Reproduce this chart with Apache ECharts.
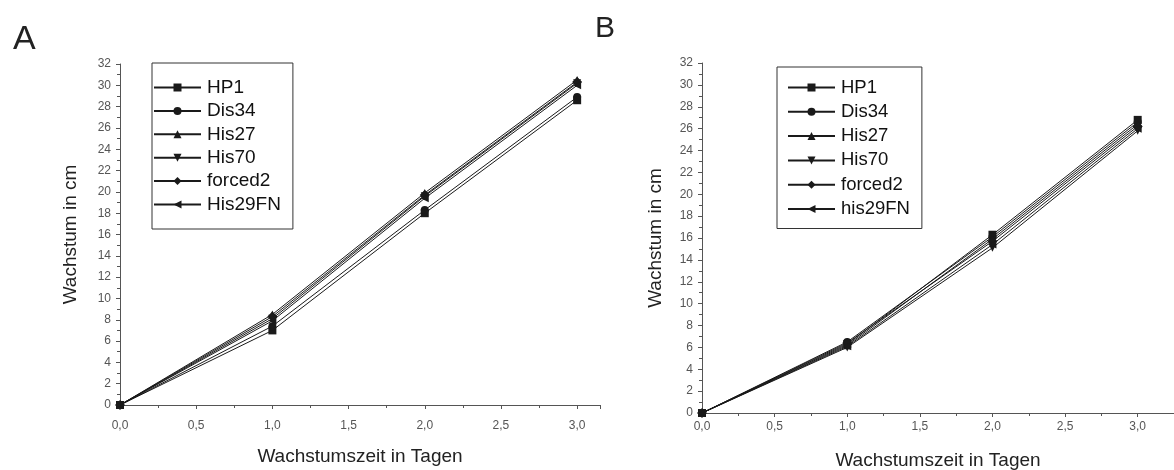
<!DOCTYPE html>
<html>
<head>
<meta charset="utf-8">
<script src="https://cdn.jsdelivr.net/npm/echarts@6/dist/echarts.min.js"></script>
<style>
  html, body { margin: 0; padding: 0; background: #fff; }
  #chart { width: 1174px; height: 470px; }
</style>
</head>
<body>
<div id="chart"></div>
<script>
// growth days
const days = [0, 1, 2, 3]

// panel A
const namesA = ['HP1', 'Dis34', 'His27', 'His70', 'forced2', 'His29FN']
const hp1A = [0, 7.0, 18.0, 28.6]
const dis34A = [0, 7.4, 18.3, 28.9]
const his27A = [0, 8.5, 19.9, 30.5]
const his70A = [0, 8.1, 19.6, 30.2]
const forced2A = [0, 8.3, 19.7, 30.3]
const his29fnA = [0, 7.9, 19.4, 30.0]

// panel B
const namesB = ['HP1', 'Dis34', 'His27', 'His70', 'forced2', 'his29FN']
const hp1B = [0, 6.3, 16.3, 26.8]
const dis34B = [0, 6.5, 16.1, 26.6]
const his27B = [0, 6.2, 15.9, 26.4]
const his70B = [0, 6.0, 15.1, 25.8]
const forced2B = [0, 6.4, 15.7, 26.2]
const his29fnB = [0, 6.1, 15.4, 26.0]

const symbols = ['rect', 'circle', 'triangle', 'triangle', 'diamond', 'triangle']
const rotations = [0, 0, 0, 180, 0, 90]

const font = 'Liberation Sans, Arial, sans-serif'
const ink = '#1a1a1a'

const valuesA = [hp1A, dis34A, his27A, his70A, forced2A, his29fnA]
const valuesB = [hp1B, dis34B, his27B, his70B, forced2B, his29fnB]

function makeSeries(names, values, idx) {
  return names.map((name, i) => ({
    name: name,
    type: 'line',
    xAxisIndex: idx,
    yAxisIndex: idx,
    symbol: symbols[i],
    symbolRotate: rotations[i],
    symbolSize: i === 4 ? 10 : 8,
    lineStyle: { color: ink, width: 1 },
    itemStyle: { color: ink },
    animation: false,
    data: days.map((d, j) => [d, values[i][j]])
  }))
}

function xAxis(idx, max, gap, margin) {
  return {
    type: 'value',
    gridIndex: idx,
    min: 0,
    max: max,
    interval: 0.5,
    name: 'Wachstumszeit in Tagen',
    nameLocation: 'middle',
    nameGap: gap,
    nameTextStyle: { fontFamily: font, fontSize: 19, color: '#222', verticalAlign: 'top' },
    axisLine: { lineStyle: { color: '#555', width: 1 } },
    axisTick: { inside: false, length: 4, lineStyle: { color: '#555' } },
    minorTick: { show: true, splitNumber: 2, length: 3, lineStyle: { color: '#555' } },
    splitLine: { show: false },
    axisLabel: {
      fontFamily: font,
      fontSize: 12,
      color: '#555',
      margin: margin,
      showMaxLabel: false,
      formatter: (v) => v.toFixed(1).replace('.', ',')
    }
  }
}

function yAxis(idx, gap) {
  return {
    type: 'value',
    gridIndex: idx,
    min: 0,
    max: 32,
    interval: 2,
    name: 'Wachstum in cm',
    nameLocation: 'middle',
    nameRotate: 90,
    nameGap: gap,
    nameTextStyle: { fontFamily: font, fontSize: 19, color: '#222' },
    axisLine: { show: true, lineStyle: { color: '#555', width: 1 } },
    axisTick: { show: true, length: 4, lineStyle: { color: '#555' } },
    minorTick: { show: true, splitNumber: 2, length: 3, lineStyle: { color: '#555' } },
    splitLine: { show: false },
    axisLabel: { fontFamily: font, fontSize: 12, color: '#555', margin: 9 }
  }
}

function legend(names, left, top, size, gap, padding) {
  return {
    data: names,
    orient: 'vertical',
    left: left,
    top: top,
    itemWidth: 47,
    itemHeight: 10,
    itemGap: gap,
    padding: padding,
    borderColor: '#333',
    borderWidth: 1,
    selectedMode: false,
    textStyle: { fontFamily: font, fontSize: size, color: '#111', padding: [0, 0, 0, 1] }
  }
}

const chart = echarts.init(document.getElementById('chart'), null, { renderer: 'canvas' })
chart.setOption({
  backgroundColor: '#fff',
  animation: false,
  title: [
    { text: 'A', left: 8, top: 18, textStyle: { fontFamily: font, fontSize: 34, fontWeight: 'normal', color: '#222' } },
    { text: 'B', left: 590, top: 9, textStyle: { fontFamily: font, fontSize: 30, fontWeight: 'normal', color: '#222' } }
  ],
  legend: [
    legend(namesA, 152, 63, 19, 4.4, [15, 12, 15, 1]),
    legend(namesB, 777, 67, 18.5, 5.3, [11, 12, 10, 10])
  ],
  grid: [
    { left: 120, top: 64, width: 480, height: 341, outerBoundsMode: 'none' },
    { left: 702, top: 63, width: 472, height: 350, outerBoundsMode: 'none' }
  ],
  xAxis: [xAxis(0, 3.15, 42, 15), xAxis(1, 3.25, 38, 8)],
  yAxis: [yAxis(0, 40), yAxis(1, 37)],
  series: makeSeries(namesA, valuesA, 0).concat(makeSeries(namesB, valuesB, 1))
})
</script>
</body>
</html>
